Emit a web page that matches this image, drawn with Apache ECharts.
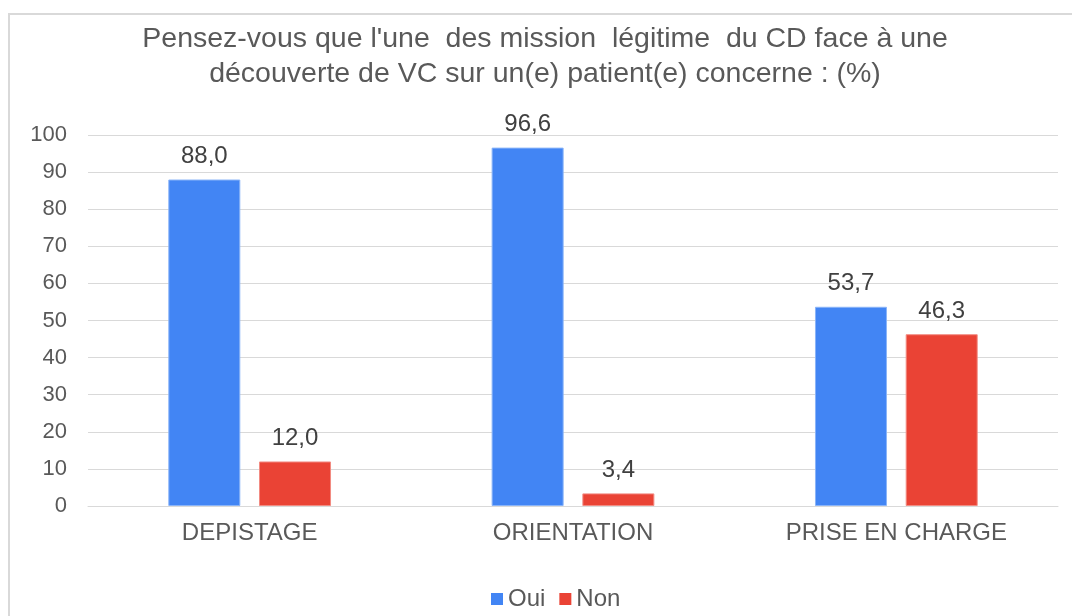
<!DOCTYPE html>
<html>
<head>
<meta charset="utf-8">
<script src="https://cdn.jsdelivr.net/npm/echarts@6/dist/echarts.min.js"></script>
<style>
html,body{margin:0;padding:0;background:#fff;}
#main{width:1072px;height:616px;}
</style>
</head>
<body>
<div id="main"></div>
<script>
const titleLines = ["Pensez-vous que l'une  des mission  légitime  du CD face à une", "découverte de VC sur un(e) patient(e) concerne : (%)"];
const categories = ["DEPISTAGE", "ORIENTATION", "PRISE EN CHARGE"];
const seriesNames = ["Oui", "Non"];
const ouiValues = [88.0, 96.6, 53.7];
const nonValues = [12.0, 3.4, 46.3];
const yTicks = { min: 0, max: 100, interval: 10 };

const FONT = "'Liberation Sans', Arial, sans-serif";
const chart = echarts.init(document.getElementById('main'), null, { renderer: 'canvas' });
const labelFmt = p => p.value.toFixed(1).replace('.', ',');
chart.setOption({
  animation: false,
  backgroundColor: '#ffffff',
  graphic: [{
    type: 'rect', silent: true, z: -1,
    shape: { x: 9, y: 14, width: 1200, height: 800 },
    style: { fill: 'none', stroke: '#d9d9d9', lineWidth: 2 }
  }],
  title: {
    text: titleLines.join('\n'),
    left: 540, top: 17, textAlign: 'center',
    textStyle: { fontFamily: FONT, fontSize: 28.5, fontWeight: 'normal', color: '#595959', lineHeight: 35 }
  },
  legend: {
    data: seriesNames,
    left: 486, top: 582,
    itemWidth: 12, itemHeight: 12, itemGap: 14,
    icon: 'rect',
    itemStyle: { borderWidth: 0 },
    textStyle: { fontFamily: FONT, fontSize: 24, color: '#595959' }
  },
  grid: { left: 88, right: 14, top: 135, bottom: 110, containLabel: false },
  xAxis: {
    type: 'category', data: categories,
    axisLine: { show: true, lineStyle: { color: '#d9d9d9', width: 1 } },
    axisTick: { show: false },
    axisLabel: { fontFamily: FONT, fontSize: 24, color: '#595959', margin: 15 }
  },
  yAxis: {
    type: 'value', min: yTicks.min, max: yTicks.max, interval: yTicks.interval,
    axisLine: { show: false }, axisTick: { show: false },
    splitLine: { lineStyle: { color: '#d9d9d9', width: 1 } },
    axisLabel: { fontFamily: FONT, fontSize: 22, color: '#595959', margin: 21 }
  },
  series: [
    {
      name: seriesNames[0], type: 'bar', data: ouiValues,
      barWidth: 72, barGap: '26%',
      itemStyle: { color: '#4285F4', borderColor: '#8ab4f8', borderWidth: 1 },
      label: { show: true, position: 'top', distance: 11, formatter: labelFmt, fontFamily: FONT, fontSize: 24, color: '#404040' }
    },
    {
      name: seriesNames[1], type: 'bar', data: nonValues,
      barWidth: 72, barGap: '26%',
      itemStyle: { color: '#EA4335', borderColor: '#f28b82', borderWidth: 1 },
      label: { show: true, position: 'top', distance: 11, formatter: labelFmt, fontFamily: FONT, fontSize: 24, color: '#404040' }
    }
  ]
});
</script>
</body>
</html>
